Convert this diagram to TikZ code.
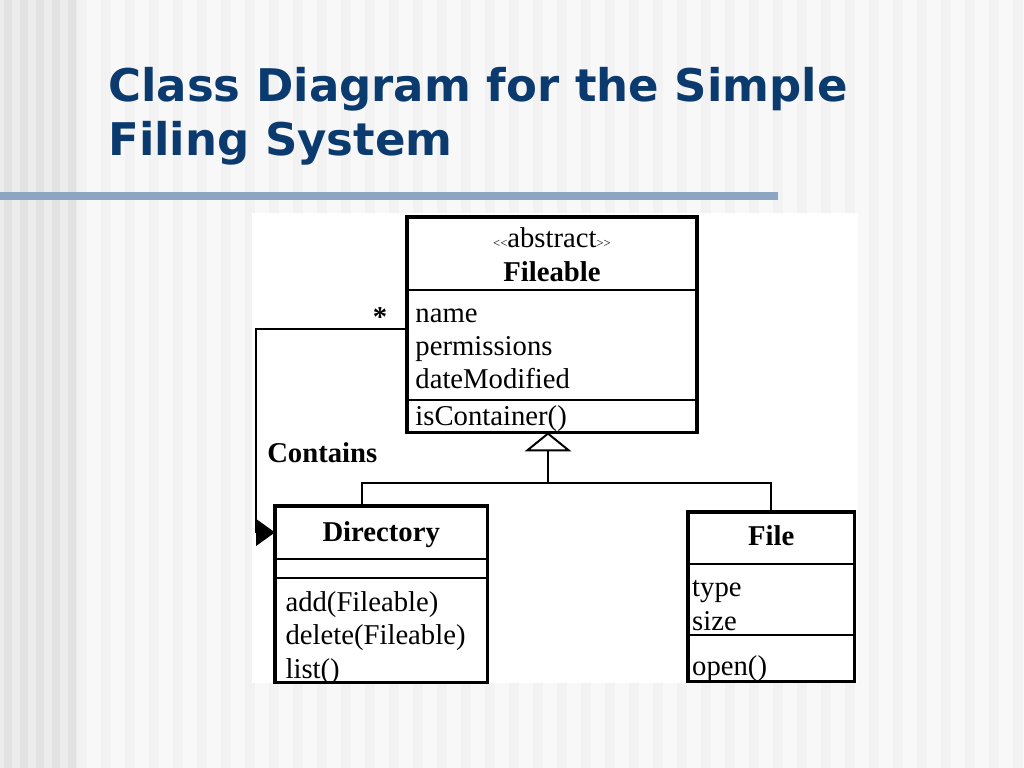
\documentclass[tikz,border=0pt]{standalone}
\usepackage{fontspec}
\setmainfont{Liberation Serif}
\newfontfamily\titlefont{DejaVu Sans}
\usepackage{tikz}
\usetikzlibrary{arrows.meta,positioning}

\definecolor{titleBlue}{RGB}{11,58,110}
\definecolor{ruleBlue}{RGB}{140,165,194}
\definecolor{bgLeft}{RGB}{236,236,236}
\definecolor{bgLeftStripe}{RGB}{226,226,226}
\definecolor{bgLight}{RGB}{248,248,248}
\definecolor{bgStripe}{RGB}{242,242,242}

\tikzset{
  titletext/.style={font=\titlefont\bfseries\fontsize{32}{37.6}\selectfont, text=titleBlue, inner sep=0pt, anchor=base west},
  part/.style={draw, line width=1.4pt, anchor=north west, inner ysep=0pt, outer sep=0pt, align=left,
    font=\fontsize{20.4}{23.7}\selectfont},
  headpart/.style={part, align=center, font=\bfseries\fontsize{20.4}{24}\selectfont},
  frame/.style={line width=2.2pt},
  link/.style={line width=1.4pt},
  umllabel/.style={font=\bfseries\fontsize{20.4}{24}\selectfont, inner sep=0pt}
}

\begin{document}
\begin{tikzpicture}[x=0.025cm, y=-0.025cm]
  \useasboundingbox (0,0) rectangle (1024,768);

  % striped slide background
  \fill[bgLeft] (0,0) rectangle (77,768);
  \foreach \sx in {0,16,...,64}
    \fill[bgLeftStripe] (\sx+4,0) rectangle ++(8,768);
  \fill[bgLight] (77,0) rectangle (1024,768);
  \foreach \sx in {77,101,...,1013}
    \fill[bgStripe] (\sx,0) rectangle ++(10,768);

  % title and rule
  \node[titletext] (title1) at (108,102) {Class Diagram for the Simple};
  \node[titletext] (title2) at (108,155) {Filing System};
  \fill[ruleBlue] (0,192) rectangle (778,200);

  % white panel of the diagram
  \fill[white] (252,213) rectangle (858,683);

  % class Fileable
  \node[headpart, inner xsep=6pt, text width=194.2pt, text height=22pt, text depth=29.7pt] (fileHead) at (407,217)
    {{\mdseries{\fontsize{9}{9}\selectfont{<}{<}}abstract{\fontsize{9}{9}\selectfont{>}{>}}}\\Fileable};
  \node[part, inner xsep=6pt, text width=194.2pt, text height=23pt, text depth=55.7pt] (fileAttr) at (fileHead.south west)
    {name\\permissions\\dateModified};
  \node[part, inner xsep=6pt, text width=194.2pt, text height=17.6pt, text depth=5.1pt] (fileOps) at (fileAttr.south west)
    {isContainer()};
  \draw[frame] (fileHead.north west) rectangle (fileOps.south east);

  % class Directory
  \node[headpart, inner xsep=7.5pt, text width=136pt, text height=25.5pt, text depth=12.1pt] (dirHead) at (275,506) {Directory};
  \node[part, inner xsep=7.5pt, text width=136pt, text height=0pt, text depth=13.5pt] (dirAttr) at (dirHead.south west) {};
  \node[part, inner xsep=7.5pt, text width=136pt, text height=24pt, text depth=50.4pt] (dirOps) at (dirAttr.south west)
    {add(Fileable)\\delete(Fileable)\\list()};
  \draw[frame] (dirHead.north west) rectangle (dirOps.south east);

  % class File
  \node[headpart, inner xsep=3pt, text width=112.3pt, text height=24pt, text depth=12.9pt] (fHead) at (688,512) {File};
  \node[part, inner xsep=3pt, text width=112.3pt, text height=23.5pt, text depth=26.8pt] (fAttr) at (fHead.south west)
    {type\\size};
  \node[part, inner xsep=3pt, text width=112.3pt, text height=29pt, text depth=4.3pt] (fOps) at (fAttr.south west)
    {open()};
  \draw[frame] (fHead.north west) rectangle (fOps.south east);

  % generalization
  \coordinate (genJoin) at (548,483);
  \draw[link] ([xshift=-13.5pt]dirHead.north) |- (genJoin) -| (fHead.north);
  \draw[link, -{Triangle[open, length=13.5pt, width=33pt, line width=1.4pt]}]
    (genJoin) -- (genJoin |- fileOps.south);

  % association Contains
  \draw[link, -{Triangle[length=13.5pt, width=19pt]}]
    ([yshift=11.7pt]fileAttr.west) -| ([xshift=-13.5pt]dirHead.west) -- (dirHead.west);
  \node[umllabel] (mult) at (380,317) {*};
  \node[umllabel, anchor=west] (contains) at (267,453) {Contains};
\end{tikzpicture}
\end{document}
